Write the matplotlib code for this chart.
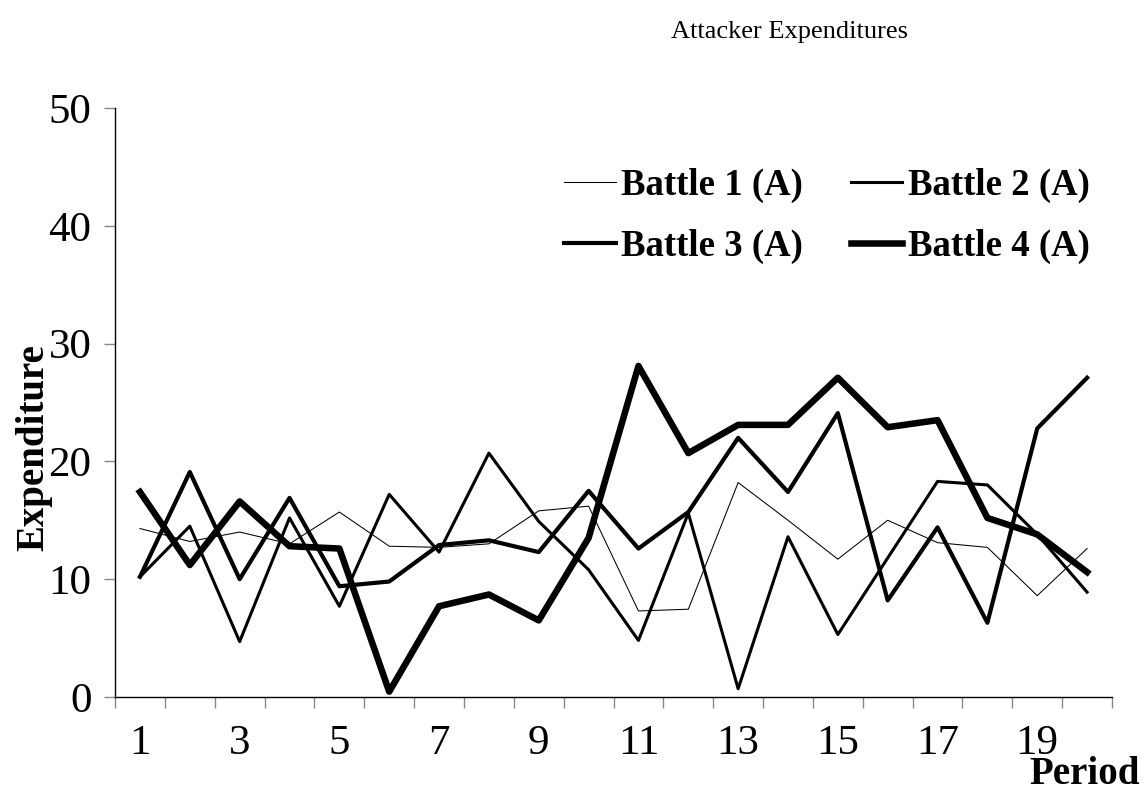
import matplotlib
matplotlib.use("Agg")
import matplotlib.pyplot as plt
import numpy as np

plt.rcParams["font.family"] = ["Liberation Serif", "DejaVu Serif"]

periods = list(range(1, 21))
battle1 = [14.3, 13.2, 14.0, 13.0, 15.7, 12.8, 12.7, 13.0, 15.8, 16.2,
           7.3, 7.45, 18.2, 15.0, 11.7, 15.0, 13.1, 12.7, 8.6, 12.6]
battle2 = [10.2, 14.5, 4.7, 15.2, 7.7, 17.2, 12.3, 20.7, 14.9, 10.8,
           4.8, 15.6, 0.7, 13.6, 5.3, 11.8, 18.3, 18.0, 13.8, 8.9]
battle3 = [10.2, 19.1, 10.0, 16.9, 9.4, 9.8, 12.9, 13.3, 12.3, 17.5,
           12.6, 15.7, 22.0, 17.4, 24.1, 8.2, 14.4, 6.3, 22.8, 27.1]
battle4 = [17.4, 11.2, 16.6, 12.8, 12.6, 0.45, 7.7, 8.7, 6.5, 13.5,
           28.1, 20.7, 23.1, 23.1, 27.1, 22.9, 23.5, 15.2, 13.8, 10.6]
labels = ["Battle 1 (A)", "Battle 2 (A)", "Battle 3 (A)", "Battle 4 (A)"]
yticks = [0, 10, 20, 30, 40, 50]
xticklabels = [1, 3, 5, 7, 9, 11, 13, 15, 17, 19]

fig = plt.figure(figsize=(11.47, 7.94), dpi=100)
ax = fig.add_axes([0.1003, 0.1222, 0.8692, 0.7418])

widths = [0.75, 2.2, 3.0, 4.7]
lines = []
for vals, lab, lw in zip([battle1, battle2, battle3, battle4], labels, widths):
    ln, = ax.plot(periods, vals, color="black", lw=lw, label=lab)
    lines.append(ln)

ax.set_xlim(0.5, 20.5)
ax.set_ylim(0, 50)
for s in ["top", "right"]:
    ax.spines[s].set_visible(False)
ax.spines["left"].set_linewidth(1.0)
ax.spines["bottom"].set_linewidth(1.0)

ax.set_yticks(yticks)
ax.tick_params(axis="y", length=8, width=1, color="#888888", pad=9, labelsize=31)

# tick marks between categories, labels on odd periods
ax.set_xticks(np.arange(0.5, 21, 1.0))
ax.set_xticklabels([])
ax.tick_params(axis="x", which="major", length=8, width=1, color="#888888")
ax.set_xticks(xticklabels, minor=True)
ax.set_xticklabels([str(v) for v in xticklabels], minor=True)
ax.tick_params(axis="x", which="minor", length=0, pad=20, labelsize=31)

ax.set_ylabel("Expenditure", fontsize=28, fontweight="bold")
ax.yaxis.set_label_coords(-0.063, 0.424)

fig.text(0.688, 0.96, "Attacker Expenditures", fontsize=19, ha="center", va="center")
fig.text(0.994, 0.013, "Period", fontsize=28, fontweight="bold", ha="right", va="baseline")

# row-major order in the legend: 1 2 / 3 4
order = [0, 2, 1, 3]
ax.legend([lines[i] for i in order], [labels[i] for i in order],
          loc="upper right", bbox_to_anchor=(1.011, 0.955), ncol=2, frameon=False,
          prop={"size": 26.5, "weight": "bold"}, handlelength=1.4,
          handletextpad=0.15, columnspacing=1.3, labelspacing=0.72)

fig.savefig("out.png", dpi=100)
